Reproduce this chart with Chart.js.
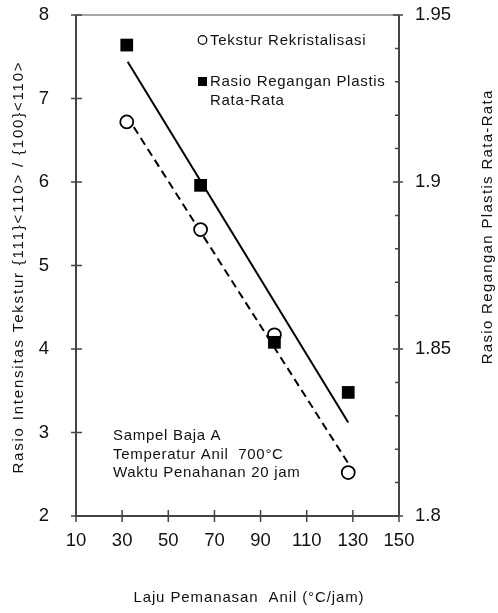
<!DOCTYPE html>
<html lang="id">
<head>
    <meta charset="UTF-8">
    <title>Laju Pemanasan Anil</title>
    <style>
        body {
            margin: 0;
            padding: 0;
            background-color: #ffffff;
        }
        canvas {
            display: block;
        }
    </style>
</head>
<body>
    <canvas id="myChart" width="498" height="613"></canvas>
    <script src="https://cdn.jsdelivr.net/npm/chart.js"></script>
    <script>
        // data
        const heatingRates = [32, 64, 96, 128];
        const textureRatio = [6.72, 5.43, 4.17, 2.52];
        const plasticRatio = [1.941, 1.899, 1.852, 1.837];
        const textureTrendX = [32, 128];
        const textureTrendY = [6.79, 2.63];
        const plasticTrendX = [32.4, 128];
        const plasticTrendY = [1.936, 1.828];

        const xTicks = [10, 30, 50, 70, 90, 110, 130, 150];
        const leftTicks = [2, 3, 4, 5, 6, 7, 8];
        const rightTicks = [1.8, 1.85, 1.9, 1.95];
        const rightMinorTicks = [1.81, 1.82, 1.83, 1.84, 1.86, 1.87, 1.88, 1.89, 1.91, 1.92, 1.93, 1.94];

        const legendLabels = ['Tekstur Rekristalisasi', ['Rasio Regangan Plastis', 'Rata-Rata']];
        const noteLines = ['Sampel Baja A', 'Temperatur Anil  700\u00b0C', 'Waktu Penahanan 20 jam'];
        const xTitle = 'Laju Pemanasan  Anil (\u00b0C/jam)';
        const yLeftTitle = 'Rasio Intensitas Tekstur {111}<110> / {100}<110>';
        const yRightTitle = 'Rasio Regangan Plastis Rata-Rata';

        const FONT = '"Liberation Sans", Arial, sans-serif';

        function toPoints(xs, ys) {
            return xs.map((x, i) => ({ x: x, y: ys[i] }));
        }

        function setTicks(list) {
            return function (scale) {
                scale.ticks = list.map(v => ({ value: v }));
            };
        }

        function noPadding(scale) {
            scale.paddingTop = 0;
            scale.paddingBottom = 0;
            scale.paddingLeft = 0;
            scale.paddingRight = 0;
        }

        // text stretched with letter spacing to a wanted width, centred on (0,0)
        function spreadText(ctx, text, width) {
            ctx.letterSpacing = '0px';
            const w = ctx.measureText(text).width;
            const gap = (width - w) / text.length;
            ctx.letterSpacing = gap + 'px';
            ctx.fillText(text, gap / 2, 0);
            ctx.letterSpacing = '0px';
        }

        // axis frame, crossing ticks, titles, legend and note
        const decorations = {
            id: 'decorations',
            afterDraw(chart) {
                const ctx = chart.ctx;
                const a = chart.chartArea;
                const xs = chart.scales.x;
                const yl = chart.scales.yLeft;
                const yr = chart.scales.yRight;
                ctx.save();

                // frame
                ctx.strokeStyle = '#8a8a8a';
                ctx.lineWidth = 1.5;
                ctx.beginPath();
                ctx.moveTo(a.left, a.top);
                ctx.lineTo(a.right, a.top);
                ctx.stroke();

                ctx.strokeStyle = '#444';
                ctx.lineWidth = 2;
                ctx.beginPath();
                ctx.moveTo(a.left, a.top);
                ctx.lineTo(a.left, a.bottom);
                ctx.lineTo(a.right, a.bottom);
                ctx.moveTo(a.right, a.top);
                ctx.lineTo(a.right, a.bottom);
                ctx.stroke();

                ctx.lineWidth = 1.5;
                ctx.beginPath();
                leftTicks.forEach(v => {
                    const y = yl.getPixelForValue(v);
                    ctx.moveTo(a.left - 5, y);
                    ctx.lineTo(a.left + 6, y);
                });
                rightTicks.forEach(v => {
                    const y = yr.getPixelForValue(v);
                    ctx.moveTo(a.right - 6, y);
                    ctx.lineTo(a.right + 4, y);
                });
                rightMinorTicks.forEach(v => {
                    const y = yr.getPixelForValue(v);
                    ctx.moveTo(a.right - 4, y);
                    ctx.lineTo(a.right, y);
                });
                xTicks.forEach(v => {
                    const x = xs.getPixelForValue(v);
                    ctx.moveTo(x, a.bottom - 6);
                    ctx.lineTo(x, a.bottom + 6);
                });
                ctx.stroke();

                ctx.fillStyle = '#111';
                ctx.font = '15px ' + FONT;
                ctx.textBaseline = 'middle';

                // axis titles
                ctx.textAlign = 'center';
                ctx.save();
                ctx.translate(248.5, 598);
                spreadText(ctx, xTitle, 231);
                ctx.restore();
                ctx.save();
                ctx.translate(19, 268);
                ctx.rotate(-Math.PI / 2);
                spreadText(ctx, yLeftTitle, 413);
                ctx.restore();
                ctx.save();
                ctx.translate(488, 227.5);
                ctx.rotate(-Math.PI / 2);
                spreadText(ctx, yRightTitle, 275);
                ctx.restore();

                // legend
                ctx.textAlign = 'left';
                ctx.letterSpacing = '0.7px';
                ctx.strokeStyle = '#000';
                ctx.lineWidth = 1.2;
                ctx.beginPath();
                ctx.arc(202.5, 40, 4.3, 0, Math.PI * 2);
                ctx.stroke();
                ctx.fillText(legendLabels[0], 210, 41);
                ctx.fillStyle = '#000';
                ctx.fillRect(198, 77, 9, 9);
                ctx.fillStyle = '#111';
                ctx.fillText(legendLabels[1][0], 210, 82);
                ctx.fillText(legendLabels[1][1], 210, 101);

                // note
                noteLines.forEach((t, i) => {
                    ctx.fillText(t, 113, 436 + i * 18.5);
                });

                ctx.restore();
            }
        };

        const ctx = document.getElementById('myChart').getContext('2d');
        window.myChart = new Chart(ctx, {
            type: 'scatter',
            data: {
                datasets: [
                    {
                        label: 'Rasio Regangan Plastis Rata-Rata',
                        data: toPoints(heatingRates, plasticRatio),
                        yAxisID: 'yRight',
                        pointStyle: 'rect',
                        pointRadius: 9,
                        pointBorderWidth: 0,
                        pointBackgroundColor: '#000'
                    },
                    {
                        label: 'Tekstur Rekristalisasi',
                        data: toPoints(heatingRates, textureRatio),
                        yAxisID: 'yLeft',
                        pointStyle: 'circle',
                        pointRadius: 6.5,
                        pointBorderWidth: 1.8,
                        pointBorderColor: '#000',
                        pointBackgroundColor: '#fff'
                    },
                    {
                        label: 'Tekstur Trend',
                        data: toPoints(textureTrendX, textureTrendY),
                        yAxisID: 'yLeft',
                        showLine: true,
                        borderColor: '#000',
                        borderWidth: 2,
                        borderDash: [8, 5],
                        pointRadius: 0
                    },
                    {
                        label: 'Rasio Trend',
                        data: toPoints(plasticTrendX, plasticTrendY),
                        yAxisID: 'yRight',
                        showLine: true,
                        borderColor: '#000',
                        borderWidth: 2,
                        pointRadius: 0
                    }
                ]
            },
            options: {
                responsive: false,
                animation: false,
                layout: { padding: { top: 15, left: 0, right: 0, bottom: 0 } },
                plugins: {
                    legend: { display: false },
                    tooltip: { enabled: false }
                },
                scales: {
                    x: {
                        type: 'linear',
                        min: 10,
                        max: 150,
                        afterBuildTicks: setTicks(xTicks),
                        afterFit(scale) { scale.height = 97; noPadding(scale); },
                        grid: { display: false, drawTicks: false },
                        border: { display: false },
                        ticks: {
                            color: '#111',
                            padding: 14,
                            maxRotation: 0,
                            font: { family: FONT, size: 18.5 }
                        }
                    },
                    yLeft: {
                        type: 'linear',
                        position: 'left',
                        min: 2,
                        max: 8,
                        afterBuildTicks: setTicks(leftTicks),
                        afterFit(scale) { scale.width = 76; noPadding(scale); },
                        grid: { display: false, drawTicks: false },
                        border: { display: false },
                        ticks: {
                            color: '#111',
                            padding: 27,
                            font: { family: FONT, size: 18.5 }
                        }
                    },
                    yRight: {
                        type: 'linear',
                        position: 'right',
                        min: 1.8,
                        max: 1.95,
                        afterBuildTicks: setTicks(rightTicks),
                        afterFit(scale) { scale.width = 99; noPadding(scale); },
                        grid: { display: false, drawTicks: false },
                        border: { display: false },
                        ticks: {
                            color: '#111',
                            padding: 16,
                            font: { family: FONT, size: 18.5 },
                            callback: v => String(v)
                        }
                    }
                }
            },
            plugins: [decorations]
        });
    </script>
</body>
</html>
